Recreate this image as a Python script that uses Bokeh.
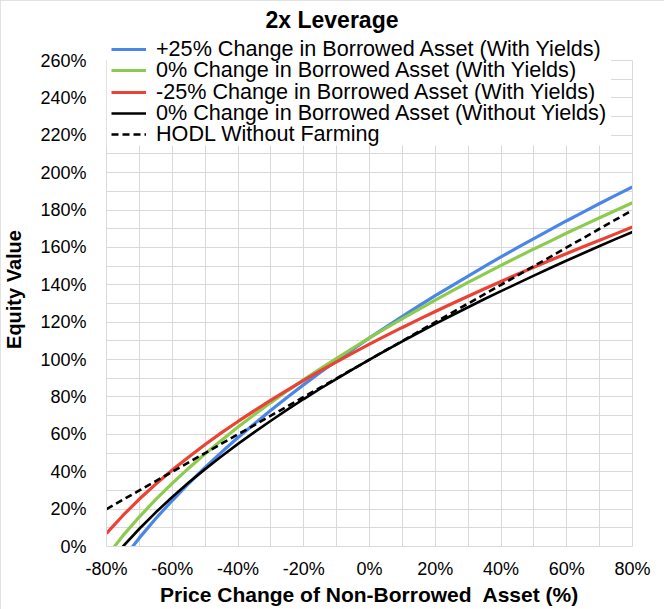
from bokeh.plotting import figure
from bokeh.models import (Range1d, FixedTicker, CustomJSTickFormatter, Legend, LegendItem, Title,
                          LinearAxis, BoxAnnotation)
from bokeh.embed import file_html
from bokeh.resources import INLINE

# Price change of non-borrowed asset (%)
price_change = [-80, -75, -70, -65, -60, -55, -50, -45, -40, -35, -30, -25, -20, -15, -10, -5,
                0, 5, 10, 15, 20, 25, 30, 35, 40, 45, 50, 55, 60, 65, 70, 75, 80]

# Equity value (%) per series
plus25_with_yields = [-19.2, -6.7, 4.6, 15.0, 24.6, 33.7, 42.3, 50.5, 58.3, 65.7, 72.9, 79.9, 86.6, 93.1, 99.4, 105.6,
                      111.6, 117.4, 123.1, 128.7, 134.2, 139.5, 144.7, 149.9, 154.9, 159.9, 164.7, 169.5, 174.3, 178.9, 183.5, 188.0, 192.4]
zero_with_yields = [-5.4, 5.8, 15.9, 25.2, 33.8, 41.9, 49.6, 56.9, 63.9, 70.6, 77.0, 83.3, 89.3, 95.1, 100.7, 106.2,
                    111.6, 116.8, 121.9, 126.9, 131.8, 136.6, 141.3, 145.9, 150.4, 154.8, 159.2, 163.4, 167.7, 171.8, 175.9, 179.9, 183.9]
minus25_with_yields = [7.0, 16.6, 25.4, 33.4, 40.9, 47.9, 54.6, 60.9, 66.9, 72.7, 78.3, 83.7, 88.9, 94.0, 98.8, 103.6,
                       108.3, 112.8, 117.2, 121.5, 125.7, 129.9, 133.9, 137.9, 141.8, 145.7, 149.4, 153.1, 156.8, 160.4, 163.9, 167.4, 170.9]
zero_without_yields = [-10.6, 0.0, 9.5, 18.3, 26.5, 34.2, 41.4, 48.3, 54.9, 61.2, 67.3, 73.2, 78.9, 84.4, 89.7, 94.9,
                       100.0, 104.9, 109.8, 114.5, 119.1, 123.6, 128.0, 132.4, 136.6, 140.8, 144.9, 149.0, 153.0, 156.9, 160.8, 164.6, 168.3]
hodl = [20, 25, 30, 35, 40, 45, 50, 55, 60, 65, 70, 75, 80, 85, 90, 95,
        100, 105, 110, 115, 120, 125, 130, 135, 140, 145, 150, 155, 160, 165, 170, 175, 180]

series_labels = ["+25% Change in Borrowed Asset (With Yields)",
                 "0% Change in Borrowed Asset (With Yields)",
                 "-25% Change in Borrowed Asset (With Yields)",
                 "0% Change in Borrowed Asset (Without Yields)",
                 "HODL Without Farming"]

x_ticks = [-80, -60, -40, -20, 0, 20, 40, 60, 80]
x_minor = [-70, -50, -30, -10, 10, 30, 50, 70]
y_ticks = [0, 20, 40, 60, 80, 100, 120, 140, 160, 180, 200, 220, 240, 260]
y_minor = [10, 30, 50, 70, 90, 110, 130, 150, 170, 190, 210, 230, 250]
y_axis_top = 260

FONT = "Liberation Sans"
GRID = "#d9d9d9"

# frame extends a little above 260% so that the legend (which overlaps the plot top) is not clipped
p = figure(width=664, height=609, output_backend="svg", toolbar_location=None,
           x_range=Range1d(-80, 80), y_range=Range1d(0, 275),
           min_border_left=103, min_border_right=32, min_border_top=32, min_border_bottom=63)
p.styles = {"outline": "1px solid #d9d9d9", "outline-offset": "-1px"}

p.title = Title(text="2x Leverage", align="left", text_font=FONT, text_font_size="23px",
                text_font_style="bold", text_color="black", offset=159, standoff=0)

p.outline_line_color = None
p.background_fill_color = "white"
p.border_fill_color = "white"

pct = CustomJSTickFormatter(code="return tick + '%';")
p.xaxis.ticker = FixedTicker(ticks=x_ticks, minor_ticks=x_minor)
p.yaxis.ticker = FixedTicker(ticks=y_ticks, minor_ticks=y_minor)
p.xaxis.formatter = pct
p.yaxis.formatter = pct
p.yaxis.bounds = (0, y_axis_top)
for ax in (p.xaxis, p.yaxis):
    ax.axis_line_color = GRID
    ax.major_tick_line_color = None
    ax.minor_tick_line_color = None
    ax.major_label_text_font = FONT
    ax.major_label_text_font_size = "18px"
    ax.major_label_text_color = "black"
    ax.axis_label_text_font = FONT
    ax.axis_label_text_font_style = "bold"
    ax.axis_label_text_color = "black"
p.xaxis.axis_label = "Price Change of Non-Borrowed\u00a0 Asset (%)"
p.yaxis.axis_label = "Equity Value"
p.xaxis.axis_label_text_font_size = "21px"
p.yaxis.axis_label_text_font_size = "20px"
p.xaxis.major_label_standoff = 6
p.yaxis.major_label_standoff = 14
p.xaxis.axis_label_standoff = 1
p.yaxis.axis_label_standoff = 12

# right border of the plot area
right_axis = LinearAxis(bounds=(0, y_axis_top), ticker=FixedTicker(ticks=[]),
                        axis_line_color=GRID, major_tick_line_color=None, minor_tick_line_color=None,
                        major_label_text_font_size="0px")
p.add_layout(right_axis, "right")

for g in (p.xgrid, p.ygrid):
    g.grid_line_color = GRID
    g.grid_line_width = 1
    g.minor_grid_line_color = GRID
    g.minor_grid_line_width = 1
p.xgrid.cross_bounds = (0, y_axis_top)

r1 = p.line(price_change, plus25_with_yields, line_color="#4A86E8", line_width=3.2)
r2 = p.line(price_change, zero_with_yields, line_color="#8CCB4B", line_width=3.2)
r3 = p.line(price_change, minus25_with_yields, line_color="#EA4335", line_width=3.2)
r4 = p.line(price_change, zero_without_yields, line_color="black", line_width=2.6)
r5 = p.line(price_change, hodl, line_color="black", line_width=2.6, line_dash="7 4")

# white legend background that hides the grid under the legend
p.add_layout(BoxAnnotation(left=-80, right=73.5, bottom=214.5, top=275,
                           fill_color="white", fill_alpha=1.0, line_color=None))

# one legend per row so the rows can be spaced tightly (as in the reference)
row_offsets = [484, 463, 441, 420, 399]
for lbl, r, yoff in zip(series_labels, [r1, r2, r3, r4, r5], row_offsets):
    lg = Legend(items=[LegendItem(label=lbl, renderers=[r])],
                location=(5, yoff), orientation="vertical",
                label_text_font=FONT, label_text_font_size="21.6px", label_text_color="black",
                glyph_width=35, glyph_height=26, label_height=26, label_standoff=10,
                spacing=0, padding=0, margin=0,
                background_fill_alpha=0.0, border_line_color=None)
    p.add_layout(lg)

open("out.html", "w").write(file_html(p, INLINE))
